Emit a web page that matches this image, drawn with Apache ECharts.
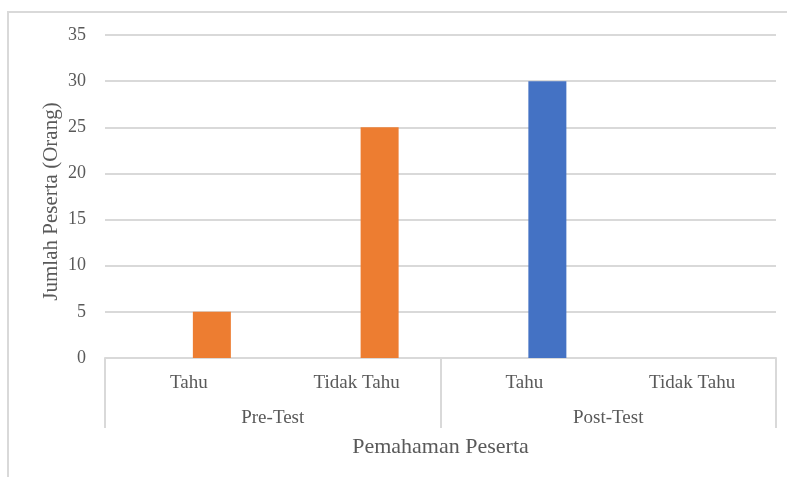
<!DOCTYPE html>
<html>
<head>
<meta charset="utf-8">
<script src="https://cdn.jsdelivr.net/npm/echarts@6/dist/echarts.min.js"></script>
<style>html,body{margin:0;padding:0;background:#fff;}#c{width:787px;height:477px;}</style>
</head>
<body>
<div id="c"></div>
<script>
var categories = ['Tahu', 'Tidak Tahu', 'Tahu', 'Tidak Tahu'];
var groups = ['Pre-Test', 'Post-Test'];
var groupOfCategory = [0, 0, 1, 1];
var values = [5, 25, 30, 0];
var groupColors = ['#ED7D31', '#4472C4'];
var yTicks = [0, 5, 10, 15, 20, 25, 30, 35];

var font = 'Liberation Serif';
var textColor = '#595959';
var lineColor = '#d9d9d9';

var chart = echarts.init(document.getElementById('c'), null, {renderer: 'canvas'});
chart.setOption({
  animation: false,
  backgroundColor: '#fff',
  graphic: [{
    type: 'rect', silent: true,
    shape: {x: 8, y: 12, width: 800, height: 500},
    style: {fill: 'none', stroke: lineColor, lineWidth: 2}
  }],
  grid: {left: 105, right: 11, top: 35, bottom: 119, containLabel: false},
  xAxis: [{
    type: 'category',
    data: categories,
    position: 'bottom',
    axisLine: {show: true, lineStyle: {color: lineColor, width: 2}},
    axisTick: {show: false},
    axisLabel: {margin: 16, fontFamily: font, fontSize: 19, color: textColor, interval: 0}
  }, {
    type: 'category',
    data: groups,
    position: 'bottom',
    axisLine: {show: false},
    axisTick: {show: true, length: 70, lineStyle: {color: lineColor, width: 2}},
    axisLabel: {margin: 51, fontFamily: font, fontSize: 19, color: textColor, interval: 0},
    name: 'Pemahaman Peserta',
    nameLocation: 'middle',
    nameGap: 78,
    nameMoveOverlap: false,
    nameTextStyle: {fontFamily: font, fontSize: 22, color: textColor}
  }],
  yAxis: {
    type: 'value',
    min: yTicks[0],
    max: yTicks[yTicks.length - 1],
    interval: yTicks[1] - yTicks[0],
    axisLine: {show: false},
    axisTick: {show: false},
    splitLine: {lineStyle: {color: lineColor, width: 2}},
    axisLabel: {margin: 19, fontFamily: font, fontSize: 18, color: textColor},
    name: 'Jumlah Peserta (Orang)',
    nameLocation: 'middle',
    nameGap: 43,
    nameMoveOverlap: false,
    nameTextStyle: {fontFamily: font, fontSize: 21, color: textColor, padding: [0, 10, 0, 0]}
  },
  series: [{
    type: 'bar',
    xAxisIndex: 0,
    data: categories.map(function () { return '-'; }),
    barWidth: 38,
    barGap: '21%'
  }, {
    type: 'bar',
    xAxisIndex: 0,
    barWidth: 38,
    barGap: '21%',
    data: values.map(function (v, i) {
      return {value: v, itemStyle: {color: groupColors[groupOfCategory[i]]}};
    })
  }]
});
</script>
</body>
</html>
